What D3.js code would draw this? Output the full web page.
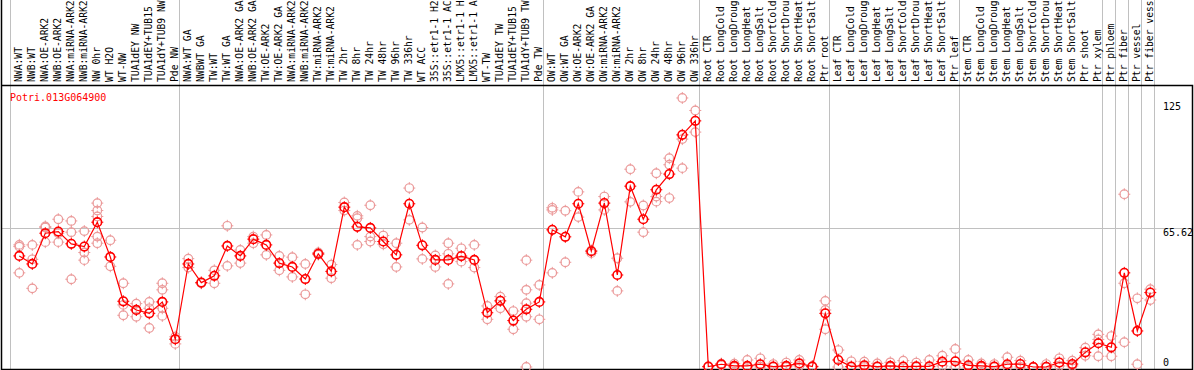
<!DOCTYPE html>
<html>
<head>
<meta charset="utf-8">
<script src="https://cdn.jsdelivr.net/npm/d3@7"></script>
<style>
  body { margin: 0; background: #fff; }
  text { font-family: "DejaVu Sans Mono", monospace; font-size: 10px; }
  text.lab { font-size: 9.7px; }
</style>
</head>
<body>
<div id="chart"></div>
<script>
const geneName = "Potri.013G064900"

const sampleLabels = [
  "NWA:WT", "NWB:WT", "NWA:OE-ARK2", "NWB:OE-ARK2", "NWA:miRNA-ARK2", "NWB:miRNA-ARK2",
  "NW 0hr", "WT H2O", "WT-NW", "TUA1dEY NW", "TUA1dEY+TUB15 NW", "TUA1dY+TUB9 NW", "Pde NW",
  "NWA:WT GA", "NWBWT GA", "TW:WT", "TW:WT GA", "NWA:OE-ARK2 GA", "NWB:OE-ARK2 GA",
  "TW:OE-ARK2", "TW:OE-ARK2 GA", "NWA:miRNA-ARK2 GA", "NWB:miRNA-ARK2 GA", "TW:miRNA-ARK2",
  "TW:miRNA-ARK2 GA", "TW 2hr", "TW 8hr", "TW 24hr", "TW 48hr", "TW 96hr", "TW 336hr",
  "WT ACC", "35S::etr1-1 H2O", "35S::etr1-1 ACC", "LMX5::etr1-1 H2O", "LMX5::etr1-1 ACC",
  "WT-TW", "TUA1dEY TW", "TUA1dEY+TUB15 TW", "TUA1dY+TUB9 TW", "Pde TW",
  "OW:WT", "OW:WT GA", "OW:OE-ARK2", "OW:OE-ARK2 GA", "OW:miRNA-ARK2", "OW:miRNA-ARK2 GA",
  "OW 2hr", "OW 8hr", "OW 24hr", "OW 48hr", "OW 96hr", "OW 336hr",
  "Root CTR", "Root LongCold", "Root LongDrought", "Root LongHeat", "Root LongSalt",
  "Root ShortCold", "Root ShortDrought", "Root ShortHeat", "Root ShortSalt", "Ptr root",
  "Leaf CTR", "Leaf LongCold", "Leaf LongDrought", "Leaf LongHeat", "Leaf LongSalt",
  "Leaf ShortCold", "Leaf ShortDrought", "Leaf ShortHeat", "Leaf ShortSalt", "Ptr leaf",
  "Stem CTR", "Stem LongCold", "Stem LongDrought", "Stem LongHeat", "Stem LongSalt",
  "Stem ShortCold", "Stem ShortDrought", "Stem ShortHeat", "Stem ShortSalt", "Ptr shoot",
  "Ptr xylem", "Ptr phloem", "Ptr fiber", "Ptr vessel", "Ptr fiber vessel"
]

// mean expression per sample
const meanValues = [
  52.4, 48.6, 63.1, 63.9, 58.1, 56.8, 68.3, 51.9, 31.0, 26.9,
  25.3, 30.7, 13.1, 48.6, 39.8, 43.0, 57.1, 52.4, 60.3, 57.6,
  49.0, 47.2, 41.5, 53.4, 45.1, 75.4, 66.1, 65.6, 59.2, 52.9,
  77.0, 57.4, 50.5, 50.5, 52.3, 50.5, 25.6, 31.2, 21.9, 27.2,
  30.7, 64.7, 61.4, 77.0, 54.6, 77.3, 43.4, 85.3, 69.7, 83.6,
  91.0, 109.5, 116.1, 0.2, 1.3, 0.5, 0.5, 1.3, 0.2, 0.5,
  1.7, 0.2, 25.3, 3.3, 0.2, 0.8, 0.2, 0.5, 0.2, 0.3,
  0.3, 2.5, 2.7, 0.8, 0.5, 0.2, 1.3, 1.4, 0, 0.1,
  2.1, 1.4, 6.9, 11.2, 9.3, 44.4, 17.0, 35.1
]

// replicate values per sample
const replicateValues = [
  [57.6, 56.8, 44.4], [57.6, 50.8, 37.1], [66.3, 65.8, 58.9], [69.7, 63.1, 58.9],
  [68.9, 63.6, 41.4], [64.1, 54.0, 50.4], [77.3, 73.8, 71.0, 61.5, 58.4], [59.8, 47.5],
  [39.5, 29.3, 24.4], [29.9, 23.7, 26.9], [30.7, 27.7, 18.4], [39.5, 36.4, 27.7, 24.1],
  [14.3, 10.9, 13.1], [51.1, 46.9], [39.8, 39.5], [45.6, 39.5],
  [66.6, 47.7], [55.2, 49.0], [61.5, 58.4], [62.3, 52.9],
  [52.4, 45.6], [51.8, 42.5], [48.6, 34.3], [54.0, 53.0],
  [48.3, 41.9], [77.6, 73.8], [71.3, 70.2, 57.6], [76.3, 61.5, 59.2],
  [62.0, 57.9], [58.4, 47.2], [84.4, 69.4], [65.8, 51.0],
  [52.6, 47.2], [58.4, 53.4, 39.2], [56.0, 49.7], [57.6, 46.9],
  [28.8, 22.5], [33.2, 27.7], [26.4, 17.8], [50.4, 36.4, 30.1, 23.7, 0],
  [38.7, 22.5], [75.1, 74.1, 44.4], [73.7, 49.4], [82.6, 70.7],
  [53.7, 55.0], [80.4, 74.1], [51.3, 35.9], [93.3, 77.9],
  [76.2, 63.6], [91.4, 80.4, 78.0], [98.5, 95.4, 79.7], [126.9, 107.5, 93.8],
  [121.0, 110.8], [0.3, 0], [1.6, 0.8], [1.6, 0],
  [3.3, 0], [4.1, 0], [1.4, 0], [2.1, 0],
  [3.3, 0.5], [0.4, 0], [31.2, 26.9, 17.8], [8.0, 0],
  [2.7, 0], [2.5, 0], [1.7, 0], [2.2, 0],
  [3.0, 0], [2.1, 0], [3.3, 0], [5.3, 0.5],
  [8.5, 0], [3.3, 0], [1.7, 0], [1.4, 0],
  [4.6, 0], [3.0, 0], [0, 0], [1.4, 0],
  [4.1, 0.5], [3.0, 0.5], [9.1, 5.3], [15.4, 13.0, 5.1],
  [14.6, 5.1], [81.5, 39.5, 11.7], [32.4, 1.3], [36.7, 31.6]
]

// group boundaries (column index where a new group starts)
const groupBreaks = [0, 13, 41, 53, 63, 73, 84, 85, 86, 87, 88]

const yTicks = [0, 65.62, 125]

const width = 1194
const height = 370
const headerY = 85
const plotRight = 1155
const frameRight = 1192
const bottomY = 369
const maxLabelChars = 14 // header only has room for this many

const svg = d3
  .select("#chart")
  .append("svg")
  .attr("width", width)
  .attr("height", height)

// column boundaries
const xb = d3.scaleLinear().domain([0, sampleLabels.length]).range([11, plotRight])
const xp = (i) => xb(i) + 8.3
const y = d3.scaleLinear().domain([0, 125]).range([367, 102])

// separators
svg
  .selectAll(".sep")
  .data(groupBreaks)
  .join("line")
  .attr("class", "sep")
  .attr("x1", (d) => Math.round(xb(d)) - 0.5)
  .attr("x2", (d) => Math.round(xb(d)) - 0.5)
  .attr("y1", 0)
  .attr("y2", bottomY)
  .attr("stroke", "#c0c0c0")
  .attr("stroke-width", 1)

// mid reference line
svg
  .append("line")
  .attr("x1", 1)
  .attr("x2", frameRight)
  .attr("y1", Math.round(y(65.62)) + 0.5)
  .attr("y2", Math.round(y(65.62)) + 0.5)
  .attr("stroke", "#c0c0c0")

// frame
svg
  .append("path")
  .attr(
    "d",
    `M1.5,0 V${bottomY + 0.5} H${frameRight + 0.5} V${headerY + 0.5} H1.5`
  )
  .attr("fill", "none")
  .attr("stroke", "#000")
  .attr("stroke-width", 1.5)

// sample labels
svg
  .selectAll(".lab")
  .data(sampleLabels)
  .join("text")
  .attr("class", "lab")
  .attr("transform", (d, i) => `translate(${xb(i) + 10.5},82) rotate(-90)`)
  .attr("fill", "#000")
  .text((d) => d.slice(0, maxLabelChars))

// gene name
svg
  .append("text")
  .attr("x", 10)
  .attr("y", 101)
  .attr("fill", "#ff0000")
  .text(geneName)

// y tick labels
svg
  .selectAll(".ytick")
  .data(yTicks)
  .join("text")
  .attr("class", "ytick")
  .attr("x", 1163)
  .attr("y", (d) => (d === 0 ? y(d) - 1 : y(d) + 8))
  .attr("fill", "#000")
  .text((d) => d)

function drawMarker(g, color, sw) {
  g.append("circle")
    .attr("r", 4.3)
    .attr("fill", "none")
    .attr("stroke", color)
    .attr("stroke-width", sw)
  g.selectAll("line")
    .data([
      [0, -3.5, 0, -6],
      [0, 3.5, 0, 6],
      [-3.5, 0, -6, 0],
      [3.5, 0, 6, 0],
    ])
    .join("line")
    .attr("x1", (d) => d[0])
    .attr("y1", (d) => d[1])
    .attr("x2", (d) => d[2])
    .attr("y2", (d) => d[3])
    .attr("stroke", color)
    .attr("stroke-width", 1)
}

// replicates
const reps = replicateValues.flatMap((vals, i) => vals.map((v) => ({ i, v })))
svg
  .selectAll(".rep")
  .data(reps)
  .join("g")
  .attr("class", "rep")
  .attr("transform", (d) => `translate(${xp(d.i)},${y(d.v)})`)
  .each(function () {
    drawMarker(d3.select(this), "#eb9a9a", 1.2)
  })

// mean line
const line = d3
  .line()
  .x((d, i) => xp(i))
  .y((d) => y(d))
svg
  .append("path")
  .datum(meanValues)
  .attr("d", line)
  .attr("fill", "none")
  .attr("stroke", "#ff0000")
  .attr("stroke-width", 1.2)

// means
svg
  .selectAll(".mean")
  .data(meanValues)
  .join("g")
  .attr("class", "mean")
  .attr("transform", (d, i) => `translate(${xp(i)},${y(d)})`)
  .each(function () {
    drawMarker(d3.select(this), "#ff0000", 1.6)
  })
</script>
</body>
</html>
